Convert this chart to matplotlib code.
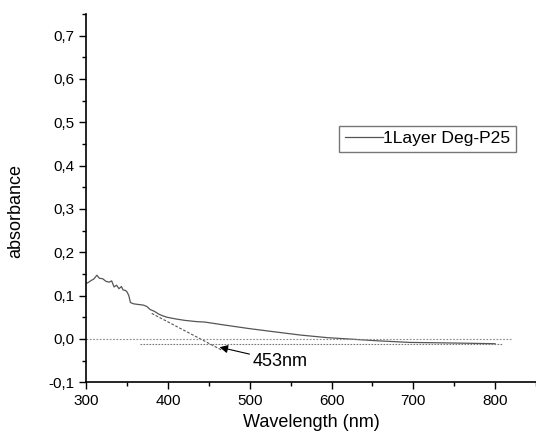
import matplotlib.pyplot as plt
from matplotlib.ticker import MultipleLocator, FuncFormatter
import numpy as np

plt.rcParams['font.family'] = ['Liberation Sans', 'DejaVu Sans']

# absorbance spectrum
wavelength = [300, 303, 306, 309, 313, 316, 320, 324, 328, 331, 334, 337, 340, 343, 345, 348, 350,
              352, 354, 358, 362, 366, 370, 374, 378, 383, 389, 394, 399, 410, 420, 435, 445,
              466, 499, 528, 562, 595, 629, 654, 696, 737, 770, 800]
absorbance = [0.128, 0.131, 0.135, 0.138, 0.147, 0.140, 0.139, 0.133, 0.131, 0.134, 0.120, 0.124,
              0.116, 0.121, 0.113, 0.112, 0.108, 0.100, 0.084, 0.081, 0.080, 0.079, 0.078, 0.075,
              0.068, 0.064, 0.057, 0.053, 0.050, 0.046, 0.043, 0.040, 0.039, 0.033, 0.024, 0.017,
              0.009, 0.003, -0.001, -0.004, -0.008, -0.009, -0.010, -0.011]

# tangent and baselines used for the band-gap estimate
tangent_x = [380, 466]
tangent_y = [0.059, -0.026]
zero_x = [300, 819]
base_x = [366, 808]
base_y = -0.012
edge_nm = 453

fig = plt.figure(figsize=(5.36, 4.32), dpi=100)
ax = fig.add_axes([0.161, 0.115, 0.839, 0.853])

ax.plot(wavelength, absorbance, color='#555555', lw=0.9, label='1Layer Deg-P25')
ax.plot(tangent_x, tangent_y, color='#555555', lw=0.8, ls=(0, (2.5, 1.5)))
ax.plot(zero_x, [0, 0], color='#888888', lw=0.8, ls=(0, (1.5, 1.5)))
ax.plot(base_x, [base_y, base_y], color='#777777', lw=0.8, ls=(0, (1.5, 1.2)))

ax.annotate(f'{edge_nm}nm', xy=(463, -0.019), xytext=(503, -0.051),
            fontsize=13, va='center', ha='left',
            arrowprops=dict(arrowstyle='-|>', color='black', lw=0.8, mutation_scale=12,
                            shrinkA=0, shrinkB=0))

ax.set_xlim(300, 850)
ax.set_ylim(-0.1, 0.75)
ax.xaxis.set_major_locator(MultipleLocator(100))
ax.xaxis.set_minor_locator(MultipleLocator(50))
ax.yaxis.set_major_locator(MultipleLocator(0.1))
ax.yaxis.set_minor_locator(MultipleLocator(0.05))
ax.yaxis.set_major_formatter(FuncFormatter(lambda v, p: f'{v:.1f}'.replace('.', ',').replace('-0,0', '0,0')))

for s in ['top', 'right']:
    ax.spines[s].set_visible(False)
for s in ['left', 'bottom']:
    ax.spines[s].set_linewidth(1.2)
ax.tick_params(which='major', length=5, width=1, labelsize=11)
ax.tick_params(which='minor', length=3, width=1)

ax.set_xlabel('Wavelength (nm)', fontsize=13)
ax.set_ylabel('absorbance', fontsize=13)
ax.yaxis.set_label_coords(-0.139, 0.465)

ax.legend(loc='upper left', bbox_to_anchor=(0.563, 0.696), fontsize=12.6, frameon=True,
          fancybox=False, edgecolor='#555555', handlelength=2.2, handletextpad=0.0,
          borderpad=0.3, borderaxespad=0)

fig.savefig('out.png', dpi=100)
